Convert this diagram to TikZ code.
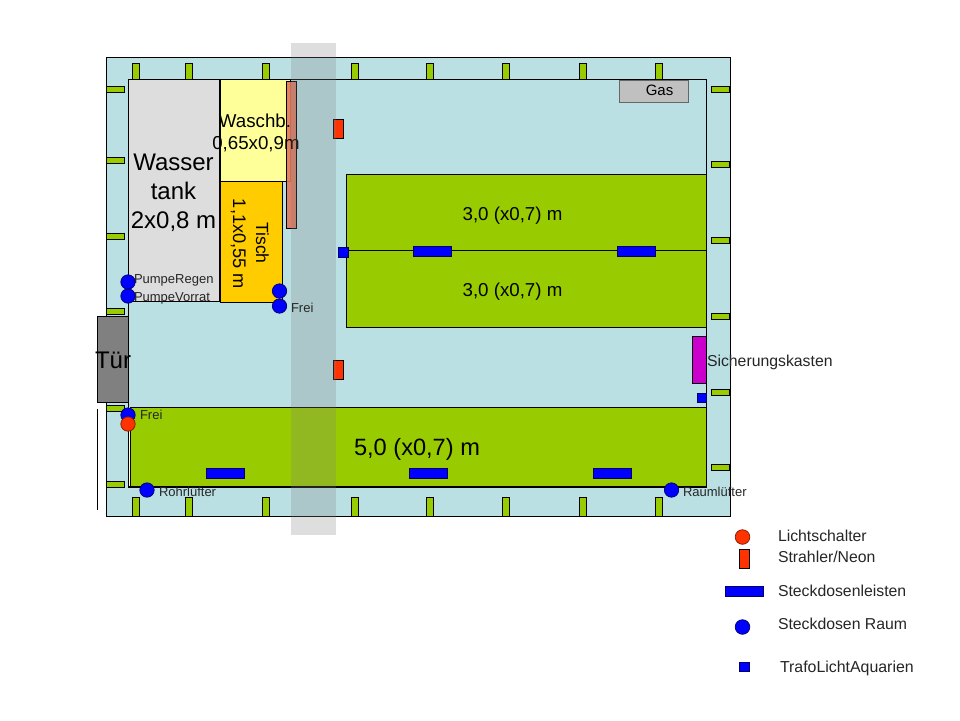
\documentclass[tikz,border=0pt]{standalone}
\usepackage{fontspec}
\setmainfont{Liberation Sans}
\definecolor{room}{RGB}{187,224,228}
\definecolor{grn}{RGB}{153,204,0}
\definecolor{tank}{RGB}{221,221,221}
\definecolor{wasch}{RGB}{255,255,153}
\definecolor{tisch}{RGB}{255,204,0}
\definecolor{strip}{RGB}{224,118,90}
\definecolor{rd}{RGB}{255,51,0}
\definecolor{bl}{RGB}{0,0,255}
\definecolor{mag}{RGB}{204,0,204}
\definecolor{tuer}{RGB}{128,128,128}
\definecolor{gasc}{RGB}{192,192,192}
\newcommand{\fs}[1]{\fontsize{#1}{#1}\selectfont}
\tikzset{
  x=1pt,y=-1pt,
  shp/.style={draw=black,line width=1pt},
  barh/.style={draw=black,line width=0.8pt,fill=grn},
  sock/.style={draw=black!60!blue,line width=0.7pt,fill=bl},
  swi/.style={draw=black!50!rd,line width=0.7pt,fill=rd},
  txt/.style={inner sep=0pt,outer sep=0pt,text=black},
  lab/.style={txt,anchor=base west,text=black!85},
}
\begin{document}
\begin{tikzpicture}
\useasboundingbox (0,0) rectangle (960,720);
\fill[white] (0,0) rectangle (960,720);
% outer wall and room
\draw[shp,fill=room] (106,57) rectangle (730,516);
\draw[shp] (128,79) rectangle (706,487);
% wall bars
\foreach \x in {136,189,266,355,430,506,583,659}{
  \draw[barh] (\x-3.5,63) rectangle (\x+3.5,79);
  \draw[barh] (\x-3.5,497) rectangle (\x+3.5,516);
}
\foreach \y in {89.5,160.5,236,311,408,484}{
  \draw[barh] (106.5,\y-3) rectangle (124.5,\y+3);
}
\foreach \y in {89.5,164.5,240.5,316,392,467}{
  \draw[barh] (711,\y-3) rectangle (729.5,\y+3);
}
% door line
\draw[line width=0.8pt] (97.5,409) -- (97.5,510);
% furniture
\draw[shp,fill=tank] (128,79) rectangle (220,301);
\draw[shp,fill=wasch] (220,79) rectangle (290.5,181);
\draw[shp,fill=tisch] (220,181) rectangle (282.5,302);
\draw[line width=1.2pt] (220,79) -- (220,302);
% aquaria
\draw[shp,fill=grn] (346.5,174) rectangle (706.5,250);
\draw[shp,fill=grn] (346.5,250) rectangle (706.5,327);
\fill[white] (128,407) rectangle (706,487);
\draw[shp,fill=grn] (130.5,407) rectangle (706,487);
\draw[line width=1.4pt] (128,487) -- (706,487);
\draw[line width=0.8pt] (128,407) -- (128,487);
% gas, door, fuse box
\draw[draw=black!60,line width=0.7pt,fill=gasc] (619,80) rectangle (688,102);
\draw[shp,fill=tuer] (97.5,316.5) rectangle (128,402);
\draw[shp,fill=mag] (692.5,336.5) rectangle (706.5,383.5);
% strip and lamps
\draw[shp,fill=strip,fill opacity=0.9] (286.5,81) rectangle (296,228);
\draw[shp,fill=rd] (333.5,119.5) rectangle (343.5,138.5);
\draw[shp,fill=rd] (333.5,360.5) rectangle (343.5,379.5);
% texts that lie under the band
\node[txt,anchor=base] (wa) at (255,127) {\fs{18.7}Waschb.};
\node[txt,anchor=base] (wb) at (256,149) {\fs{18.7}0,65x0,9m};
% socket strips
\draw[sock] (338,247) rectangle (348,257);
\foreach \x/\y in {413/246,617/246,206/468,409/468,593/468}{
  \draw[sock] (\x,\y) rectangle (\x+38,\y+10);
}
\draw[sock] (697.5,393) rectangle (706.5,402);
% translucent band
\fill[tuer,fill opacity=0.26] (291,43) rectangle (336,535);
% texts
\node[txt,anchor=base] (w1) at (173.5,170) {\fs{24}Wasser};
\node[txt,anchor=base] (w2) at (173.5,199) {\fs{24}tank};
\node[txt,anchor=base] (w3) at (173.5,228) {\fs{24}2x0,8 m};
\node[txt,anchor=base,rotate=-90] (t1) at (256,243) {\fs{17.6}Tisch};
\node[txt,anchor=base,rotate=-90] (t2) at (233,244) {\fs{18.2}1,1x0,55 m};
\node[txt,anchor=base] (g) at (659.5,95) {\fs{15}Gas};
\node[txt,anchor=base] (a1) at (512.5,220) {\fs{18.7}3,0 (x0,7) m};
\node[txt,anchor=base] (a2) at (512.5,296) {\fs{18.7}3,0 (x0,7) m};
\node[txt,anchor=base] (a3) at (417,455) {\fs{23.6}5,0 (x0,7) m};
\node[txt,anchor=base] (tu) at (113,368) {\fs{24}Tür};
\node[lab,anchor=base west] (si) at (707,366) {\fs{15.8}Sicherungskasten};
\node[lab] (p1) at (134,283) {\fs{13}PumpeRegen};
\node[lab] (p2) at (134,301) {\fs{13}PumpeVorrat};
\node[lab] (f1) at (291,312) {\fs{13}Frei};
\node[lab] (f2) at (140,419) {\fs{13}Frei};
\node[lab] (rl) at (159,496) {\fs{13}Rohrlüfter};
\node[lab] (ra) at (683,496) {\fs{13}Raumlüfter};
% sockets and switches
\foreach \x/\y in {128/282,128/296,279.5/291,279.5/306,128/415,147/490,671.5/490}{
  \draw[sock] (\x,\y) circle (7.2);
}
\draw[swi] (128,424) circle (7.2);
% legend
\draw[swi] (742.5,537) circle (7.3);
\draw[shp,fill=rd,line width=0.8pt] (739,549) rectangle (749,568);
\draw[sock] (725,586) rectangle (763,596);
\draw[sock] (742.5,627) circle (7.3);
\draw[sock] (739.5,662) rectangle (749.5,671);
\node[lab] (l1) at (778,541) {\fs{15.8}Lichtschalter};
\node[lab] (l2) at (778,562) {\fs{15.8}Strahler/Neon};
\node[lab] (l3) at (778,596.5) {\fs{15.8}Steckdosenleisten};
\node[lab] (l4) at (778,629.5) {\fs{15.8}Steckdosen Raum};
\node[lab] (l5) at (780,672) {\fs{15.9}TrafoLichtAquarien};
\end{tikzpicture}
\end{document}
